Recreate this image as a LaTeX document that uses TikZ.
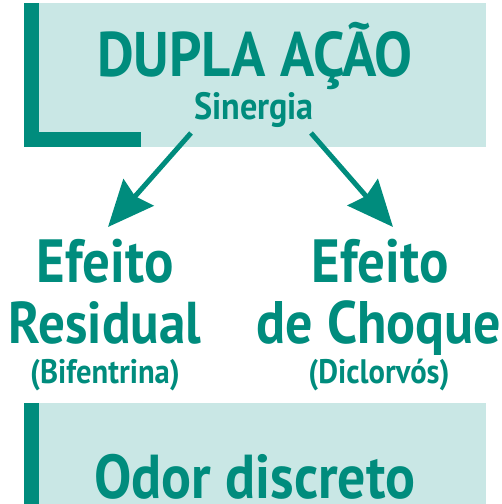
\documentclass[tikz,border=0pt]{standalone}
\usepackage{fontspec}
\setmainfont{PT Sans}[FakeStretch=0.9]
\usetikzlibrary{arrows.meta}
\definecolor{teal1}{RGB}{0,140,125}
\definecolor{teal2}{RGB}{201,231,229}
\begin{document}
\begin{tikzpicture}[x=1pt,y=-1pt,
  txt/.style={text=teal1,font=\bfseries,inner sep=0pt,anchor=base},
  arr/.style={draw=teal1,line width=5pt,-{Stealth[length=46pt,width=40pt,inset=5pt]}}]
\useasboundingbox (0,0) rectangle (502,504);
% top panel
\fill[teal2] (39,3) rectangle (486,147);
\fill[teal1] (24,3) rectangle (39,147);
\fill[teal1] (24,132) rectangle (141,147);
% bottom panel
\fill[teal2] (39,403) rectangle (486,504);
\fill[teal1] (24,403) rectangle (39,504);
% texts
\node[txt,font=\bfseries\fontsize{63}{63}\selectfont] (title) at (255,76) {DUPLA AÇÃO};
\node[txt,font=\bfseries\fontsize{38}{38}\selectfont] (sub) at (254,119) {Sinergia};
\node[txt,font=\bfseries\fontsize{61}{61}\selectfont] (l1) at (105,282) {Efeito};
\node[txt,font=\bfseries\fontsize{59}{59}\selectfont] (l2) at (105,343) {Residual};
\node[txt,font=\bfseries\fontsize{34}{34}\selectfont] (l3) at (105,383) {(Bifentrina)};
\node[txt,font=\bfseries\fontsize{61}{61}\selectfont] (r1) at (380,282) {Efeito};
\node[txt,font=\bfseries\fontsize{60}{60}\selectfont] (r2) at (379,343) {de Choque};
\node[txt,font=\bfseries\fontsize{34}{34}\selectfont] (r3) at (379,383) {(Diclorvós)};
\node[txt,font=\bfseries\fontsize{62}{62}\selectfont] (odor) at (255,498) {Odor discreto};
% arrows
\coordinate (a1s) at (191,133);
\coordinate (a1e) at (108,227);
\coordinate (a2s) at (311,133);
\coordinate (a2e) at (393,227);
\draw[arr] (a1s) -- (a1e);
\draw[arr] (a2s) -- (a2e);
\end{tikzpicture}
\end{document}
